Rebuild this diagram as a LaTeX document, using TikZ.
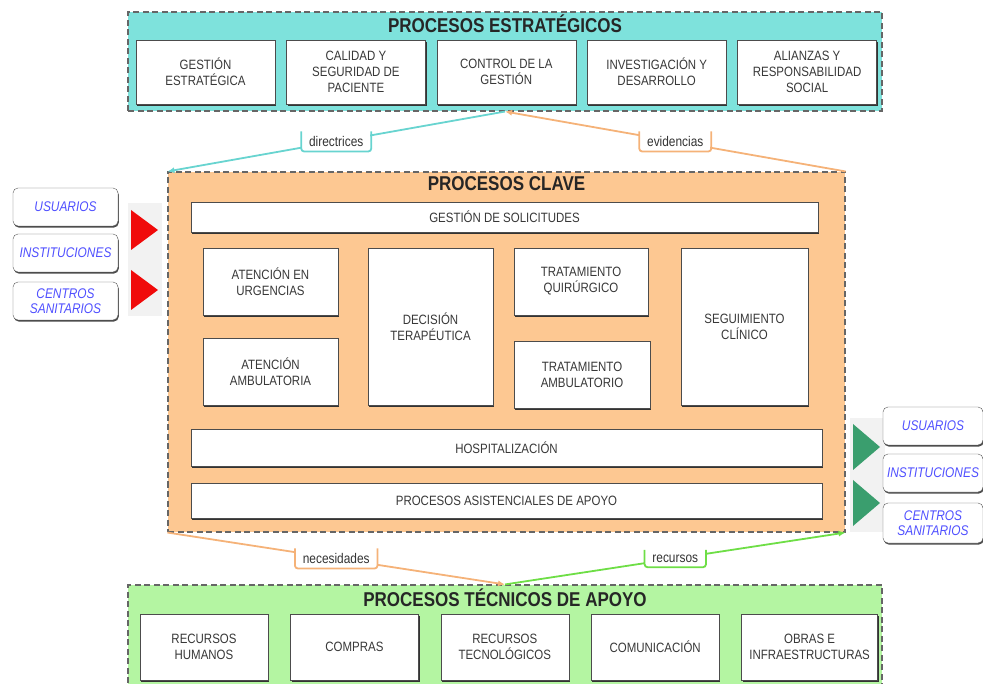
\documentclass[tikz,border=0pt]{standalone}
\usepackage{fontspec}
\setmainfont{Liberation Sans}[FakeStretch=0.85]
\usepackage{tikz}
\usetikzlibrary{positioning,calc,arrows.meta,shadows}
\definecolor{estrfill}{RGB}{126,226,220}
\definecolor{clavefill}{RGB}{253,200,146}
\definecolor{tecfill}{RGB}{180,245,162}
\definecolor{estrline}{RGB}{104,212,208}
\definecolor{claveline}{RGB}{245,178,120}
\definecolor{tecline}{RGB}{110,222,70}
\definecolor{entrada}{RGB}{240,10,10}
\definecolor{salida}{RGB}{58,158,110}
\definecolor{extazul}{RGB}{80,80,255}
\tikzstyle{line} = [draw,thick]

\begin{document}
\begin{tikzpicture}[x=1pt,y=-1pt,node distance=11pt,
            proc/.style = {draw=black!70, fill=white, align=center, text=black!78,
              font=\fontsize{13.5}{16}\selectfont, inner sep=1pt,
              drop shadow={shadow xshift=1.2pt, shadow yshift=-1.6pt, opacity=1, fill=black!80}},
            grupo/.style = {draw=black!60, dash pattern=on 6pt off 3.5pt, line width=1.1pt, inner sep=0pt},
            titulo/.style = {font=\fontsize{20}{22}\selectfont\bfseries, text=black!85, inner sep=1pt},
            ext/.style = {draw=black!65, fill=white, rounded corners=5pt, align=center,
              font=\fontsize{14}{15}\selectfont\itshape, text=extazul, inner sep=1pt,
              drop shadow={shadow xshift=0.8pt, shadow yshift=-1.6pt, opacity=1, fill=black!70}},
            etiq/.style = {fill=white, font=\fontsize{14}{15}\selectfont, text=black!80, inner xsep=7pt, inner ysep=4pt}]
            \useasboundingbox (0,0) rectangle (983,684);
            % procesos estrategicos
            \node[grupo, fill=estrfill, minimum width=754pt, minimum height=99pt] (estr) at (505,61.5) {};
            \node[titulo, below=2pt of estr.north] {PROCESOS ESTRATÉGICOS};
            \node[proc, minimum width=139pt, minimum height=64pt] (ge) at (205.5,72) {GESTIÓN\\ESTRATÉGICA};
            \node[proc, minimum width=139pt, minimum height=64pt] (cal) [right = of ge] {CALIDAD Y\\SEGURIDAD DE\\PACIENTE};
            \node[proc, minimum width=139pt, minimum height=64pt] (ctl) [right = of cal] {CONTROL DE LA\\GESTIÓN};
            \node[proc, minimum width=139pt, minimum height=64pt] (inv) [right = of ctl] {INVESTIGACIÓN Y\\DESARROLLO};
            \node[proc, minimum width=139pt, minimum height=64pt] (ali) [right = of inv] {ALIANZAS Y\\RESPONSABILIDAD\\SOCIAL};
            % procesos clave
            \node[grupo, fill=clavefill, minimum width=677pt, minimum height=360pt] (clave) at (506.5,352) {};
            \node[titulo, below=4pt of clave.north] {PROCESOS CLAVE};
            \node[proc, minimum width=627pt, minimum height=30pt] (sol) at (504.5,217) {GESTIÓN DE SOLICITUDES};
            \node[proc, minimum width=135pt, minimum height=67pt] (urg) at (270.5,281.5) {ATENCIÓN EN\\URGENCIAS};
            \node[proc, minimum width=135pt, minimum height=67pt] (amb) at (270.5,371.5) {ATENCIÓN\\AMBULATORIA};
            \node[proc, minimum width=125pt, minimum height=157pt] (dec) at (430.5,326.5) {DECISIÓN\\TERAPÉUTICA};
            \node[proc, minimum width=134pt, minimum height=67pt] (qui) at (581,281.5) {TRATAMIENTO\\QUIRÚRGICO};
            \node[proc, minimum width=136pt, minimum height=67pt] (tam) at (582,374.5) {TRATAMIENTO\\AMBULATORIO};
            \node[proc, minimum width=127pt, minimum height=157pt] (seg) at (744.5,326.5) {SEGUIMIENTO\\CLÍNICO};
            \node[proc, minimum width=631pt, minimum height=37pt] (hosp) at (506.5,447.5) {HOSPITALIZACIÓN};
            \node[proc, minimum width=631pt, minimum height=35pt] (asis) at (506.5,500.5) {PROCESOS ASISTENCIALES DE APOYO};
            % procesos tecnicos de apoyo
            \node[grupo, fill=tecfill, minimum width=754pt, minimum height=110pt] (tec) at (505,640) {};
            \node[titulo, below=3pt of tec.north] {PROCESOS TÉCNICOS DE APOYO};
            \node[proc, minimum width=128pt, minimum height=66pt] (rh) at (204,647) {RECURSOS\\HUMANOS};
            \node[proc, minimum width=128pt, minimum height=66pt] (com) [right = 22pt of rh] {COMPRAS};
            \node[proc, minimum width=128pt, minimum height=66pt] (rt) [right = 22pt of com] {RECURSOS\\TECNOLÓGICOS};
            \node[proc, minimum width=128pt, minimum height=66pt] (cmc) [right = 22pt of rt] {COMUNICACIÓN};
            \node[proc, minimum width=136pt, minimum height=66pt] (obr) [right = 22pt of cmc] {OBRAS E\\INFRAESTRUCTURAS};
            % entradas
            \fill[black!5] (128,203) rectangle (162,316);
            \fill[entrada] (131,210) -- (131,250) -- (158,230) -- cycle;
            \fill[entrada] (131,270) -- (131,310) -- (158,290) -- cycle;
            \node[ext, minimum width=105pt, minimum height=38pt] (usu1) at (65.5,207) {USUARIOS};
            \node[ext, minimum width=105pt, minimum height=38pt] (ins1) at (65.5,253) {INSTITUCIONES};
            \node[ext, minimum width=105pt, minimum height=38pt] (cen1) at (65.5,301) {CENTROS\\SANITARIOS};
            % salidas
            \fill[black!5] (850,418) rectangle (885,532);
            \fill[salida] (853,424) -- (853,470) -- (880,447) -- cycle;
            \fill[salida] (853,480) -- (853,526) -- (880,503) -- cycle;
            \node[ext, minimum width=100pt, minimum height=38pt] (usu2) at (933,426) {USUARIOS};
            \node[ext, minimum width=100pt, minimum height=38pt] (ins2) at (933,473) {INSTITUCIONES};
            \node[ext, minimum width=100pt, minimum height=40pt] (cen2) at (933,523) {CENTROS\\SANITARIOS};
            % flujos
            \path [line, draw=estrline, line width=1.8pt, -{Latex[length=7pt,width=6pt]}] (estr.south) -- (clave.north west)
              node[etiq, midway] (dir) {directrices};
            \draw[estrline, line width=1.8pt, rounded corners=3pt] (dir.north west) |- (dir.south) -| (dir.north east);
            \path [line, draw=claveline, line width=1.8pt, -{Latex[length=7pt,width=6pt]}] (clave.north east) -- (estr.south)
              node[etiq, midway] (evi) {evidencias};
            \draw[claveline, line width=1.8pt, rounded corners=3pt] (evi.north west) |- (evi.south) -| (evi.north east);
            \path [line, draw=claveline, line width=1.8pt, -{Latex[length=7pt,width=6pt]}] (clave.south west) -- (tec.north)
              node[etiq, midway] (nec) {necesidades};
            \draw[claveline, line width=1.8pt, rounded corners=3pt] (nec.north west) |- (nec.south) -| (nec.north east);
            \path [line, draw=tecline, line width=1.8pt, -{Latex[length=7pt,width=6pt]}] (tec.north) -- (clave.south east)
              node[etiq, midway] (rec) {recursos};
            \draw[tecline, line width=1.8pt, rounded corners=3pt] (rec.north west) |- (rec.south) -| (rec.north east);
\end{tikzpicture}
\end{document}
